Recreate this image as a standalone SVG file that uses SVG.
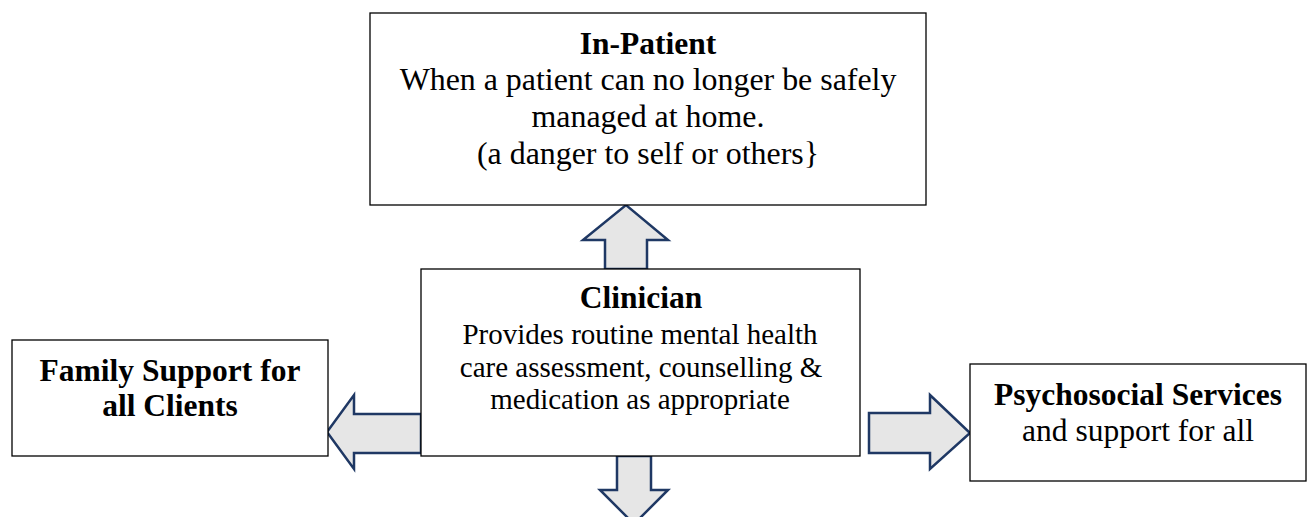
<svg xmlns="http://www.w3.org/2000/svg" width="1311" height="517" viewBox="0 0 1311 517">
  <style>
    .box { fill: #ffffff; stroke: #000000; stroke-width: 1.3; }
    .arrow { fill: #e6e6e6; stroke: #1f3864; stroke-width: 2.5; stroke-linejoin: miter; }
    .t { font-family: "Liberation Serif", "Times New Roman", serif; font-size: 31.5px; fill: #000000; text-anchor: middle; }
    .b { font-weight: bold; }
    .s { font-size: 29px; }
  </style>
  <rect width="1311" height="517" fill="#ffffff"/>

  <!-- block arrows from the clinician to each service -->
  <g id="connectors">
    <polygon class="arrow" points="605,269 605,240 583,240 626,205 668,240 647,240 647,269"/>
    <polygon class="arrow" points="421,414 354,414 354,395 327,432 354,469 354,453 421,453"/>
    <polygon class="arrow" points="869,413 930,413 930,395 970,433 930,469 930,453 869,453"/>
    <polygon class="arrow" points="617,456 617,490 600,490 634,524 668,490 651,490 651,456"/>
  </g>

  <g id="inpatient">
    <rect class="box" x="370" y="13" width="556" height="192"/>
    <text class="t b" x="648" y="54">In-Patient</text>
    <text class="t" x="648" y="90" style="font-size:31.9px">When a patient can no longer be safely</text>
    <text class="t" x="648" y="127" style="font-size:31.9px">managed at home.</text>
    <text class="t" x="648" y="164" style="font-size:31.9px">(a danger to self or others}</text>
  </g>

  <g id="clinician">
    <rect class="box" x="421" y="269" width="439" height="187"/>
    <text class="t b" x="641" y="308">Clinician</text>
    <text class="t s" x="640" y="344">Provides routine mental health</text>
    <text class="t s" x="641" y="377">care assessment, counselling &amp;</text>
    <text class="t s" x="640" y="409">medication as appropriate</text>
  </g>

  <g id="family">
    <rect class="box" x="12" y="340" width="316" height="116"/>
    <text class="t b" x="170" y="381">Family Support for</text>
    <text class="t b" x="170" y="416">all Clients</text>
  </g>

  <g id="psychosocial">
    <rect class="box" x="970" y="364" width="336" height="117"/>
    <text class="t b" x="1138" y="405">Psychosocial Services</text>
    <text class="t" x="1138" y="441">and support for all</text>
  </g>
</svg>
